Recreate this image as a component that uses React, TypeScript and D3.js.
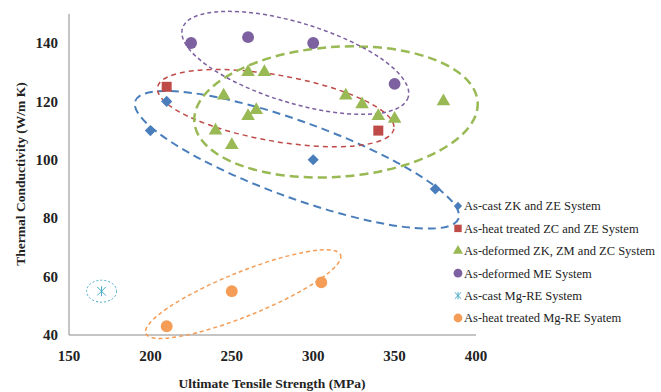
import React from "react";
import * as d3 from "d3";

// values (UTS in MPa, thermal conductivity in W/m K)
const castZKZE_uts = [200, 210, 300, 375];
const castZKZE_tc = [110, 120, 100, 90];

const heatZCZE_uts = [210, 340];
const heatZCZE_tc = [125, 110];

const defZKZMZC_uts = [240, 245, 250, 260, 260, 265, 270, 320, 330, 340, 350, 380];
const defZKZMZC_tc = [110, 122, 105, 130, 115, 117, 130, 122, 119, 115, 114, 120];

const defME_uts = [225, 260, 300, 350];
const defME_tc = [140, 142, 140, 126];

const castMgRE_uts = [170];
const castMgRE_tc = [55];

const heatMgRE_uts = [210, 250, 305];
const heatMgRE_tc = [43, 55, 58];

const xTicks = [150, 200, 250, 300, 350, 400];
const yTicks = [40, 60, 80, 100, 120, 140];

const seriesNames = [
  "As-cast ZK and ZE System",
  "As-heat treated  ZC and ZE System",
  "As-deformed ZK, ZM and ZC System",
  "As-deformed ME System",
  "As-cast Mg-RE System",
  "As-heat treated  Mg-RE Syatem",
];

const W = 661;
const H = 392;
const serif = "'Liberation Serif', 'DejaVu Serif', serif";

type Shape = "diamond" | "square" | "triangle" | "circle" | "asterisk";

const series: { uts: number[]; tc: number[]; color: string; shape: Shape }[] = [
  { uts: castZKZE_uts, tc: castZKZE_tc, color: "#4a7ebb", shape: "diamond" },
  { uts: heatZCZE_uts, tc: heatZCZE_tc, color: "#be4b48", shape: "square" },
  { uts: defZKZMZC_uts, tc: defZKZMZC_tc, color: "#98b954", shape: "triangle" },
  { uts: defME_uts, tc: defME_tc, color: "#7d60a0", shape: "circle" },
  { uts: castMgRE_uts, tc: castMgRE_tc, color: "#46aac5", shape: "asterisk" },
  { uts: heatMgRE_uts, tc: heatMgRE_tc, color: "#f59d56", shape: "circle" },
];

// hand-drawn grouping ellipses: centre in data units, radii in px, tilt in degrees
const groups = [
  { cx: 290, cy: 100, rx: 172, ry: 38, rot: 20, color: "#4a7ebb", dash: "8,5", w: 2 },
  { cx: 277, cy: 117.7, rx: 120, ry: 33, rot: 10, color: "#be4b48", dash: "5,4", w: 1.5 },
  { cx: 314, cy: 116.4, rx: 142, ry: 65, rot: -4, color: "#98b954", dash: "9,5", w: 2.5 },
  { cx: 289, cy: 133.2, rx: 118, ry: 40, rot: 17, color: "#7d60a0", dash: "4,3", w: 1.5 },
  { cx: 170, cy: 55, rx: 15, ry: 11, rot: 0, color: "#46aac5", dash: "2,2", w: 1 },
  { cx: 257, cy: 54, rx: 105, ry: 22, rot: -22, color: "#f59d56", dash: "4,3", w: 1.5 },
];

const symbolFor = (shape: Shape) =>
  shape === "diamond" || shape === "square"
    ? d3.symbolSquare
    : shape === "triangle"
    ? d3.symbolTriangle
    : shape === "asterisk"
    ? d3.symbolTimes
    : d3.symbolCircle;

const Marker = ({ x, y, shape, color, scale = 1 }: { x: number; y: number; shape: Shape; color: string; scale?: number }) => {
  const sizes: Record<Shape, number> = { diamond: 62, square: 100, triangle: 80, circle: 110, asterisk: 50 };
  const d = d3.symbol(symbolFor(shape), sizes[shape] * scale)() || "";
  if (shape === "asterisk") {
    const r = 5 * Math.sqrt(scale);
    return (
      <g transform={`translate(${x},${y})`} stroke={color} strokeWidth={1}>
        <path d={d} fill="none" />
        <line x1={0} y1={-r} x2={0} y2={r} />
      </g>
    );
  }
  const rot = shape === "diamond" ? " rotate(45)" : "";
  return <path d={d} transform={`translate(${x},${y})${rot}`} fill={color} />;
};

export default function App() {
  const x = d3.scaleLinear().domain([150, 400]).range([69, 476]);
  const y = d3.scaleLinear().domain([40, 150]).range([335, 13.8]);

  const legendY = d3.scaleLinear().domain([0, 5]).range([206, 318]);

  return (
    <svg width={W} height={H} style={{ position: "absolute", left: 0, top: 0, background: "#fff" }}>
      {/* axes */}
      <line x1={x(150)} x2={x(150)} y1={y(150)} y2={y(40)} stroke="#8a8a8a" strokeWidth={1} />
      <line x1={x(150)} x2={x(400)} y1={y(40)} y2={y(40)} stroke="#8a8a8a" strokeWidth={1} />

      {yTicks.map((t) => (
        <text key={t} x={58} y={y(t)} dy="0.35em" textAnchor="end" fontFamily={serif} fontWeight="bold" fontSize={15} fill="#222">
          {t}
        </text>
      ))}
      {xTicks.map((t) => (
        <text key={t} x={x(t)} y={356} dy="0.35em" textAnchor="middle" fontFamily={serif} fontWeight="bold" fontSize={15} fill="#222">
          {t}
        </text>
      ))}

      <text x={272} y={383} dy="0.35em" textAnchor="middle" fontFamily={serif} fontWeight="bold" fontSize={13.5} fill="#222">
        Ultimate Tensile Strength (MPa)
      </text>
      <text
        transform={`translate(20,174) rotate(-90)`}
        dy="0.35em"
        textAnchor="middle"
        fontFamily={serif}
        fontWeight="bold"
        fontSize={13.5}
        fill="#222"
      >
        Thermal Conductivity (W/m K)
      </text>

      {/* grouping ellipses */}
      {groups.map((g, i) => (
        <ellipse
          key={i}
          cx={x(g.cx)}
          cy={y(g.cy)}
          rx={g.rx}
          ry={g.ry}
          transform={`rotate(${g.rot},${x(g.cx)},${y(g.cy)})`}
          fill="none"
          stroke={g.color}
          strokeWidth={g.w}
          strokeDasharray={g.dash}
        />
      ))}

      {/* points */}
      {series.map((s, i) =>
        s.uts.map((u, j) => <Marker key={`${i}-${j}`} x={x(u)} y={y(s.tc[j])} shape={s.shape} color={s.color} />)
      )}

      {/* legend */}
      {series.map((s, i) => (
        <g key={i}>
          <Marker x={458} y={legendY(i)} shape={s.shape} color={s.color} scale={0.55} />
          <text x={464} y={legendY(i)} dy="0.35em" fontFamily={serif} fontSize={12.5} fill="#222">
            {seriesNames[i]}
          </text>
        </g>
      ))}
    </svg>
  );
}
